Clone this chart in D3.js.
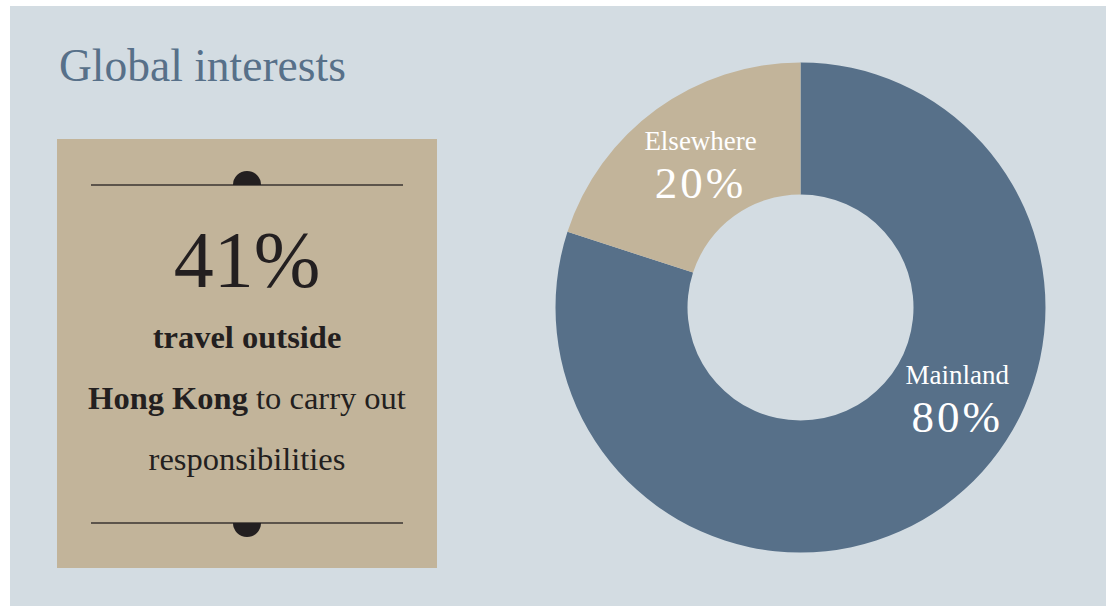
<!DOCTYPE html>
<html>
<head>
<meta charset="utf-8">
<script src="https://cdn.jsdelivr.net/npm/d3@7"></script>
<style>
  html, body { margin: 0; padding: 0; background: #fff; }
  svg { display: block; }
  text { font-family: 'Liberation Serif', 'DejaVu Serif', serif; }
</style>
</head>
<body>
<svg id="chart"></svg>
<script>
const regions = ['Mainland', 'Elsewhere'];
const shares = [80, 20];
const headline = '41%';
const noteLines = [
  [{ t: 'travel outside', bold: true }],
  [{ t: 'Hong Kong', bold: true }, { t: ' to carry out', bold: false }],
  [{ t: 'responsibilities', bold: false }]
];

const width = 1112;
const height = 606;
const colors = { Mainland: '#577089', Elsewhere: '#c2b49a' };
// where each label sits around the ring
const labelPos = {
  Mainland: { angle: 123, r: 187 },
  Elsewhere: { angle: -37, r: 166 }
};

const svg = d3.select('#chart')
  .attr('width', width)
  .attr('height', height);

svg.append('rect')
  .attr('x', 10)
  .attr('y', 6)
  .attr('width', 1096)
  .attr('height', 600)
  .attr('fill', '#d3dce2');

svg.append('text')
  .attr('x', 59)
  .attr('y', 81)
  .attr('fill', '#577089')
  .style('font-size', '45.5px')
  .text('Global interests');

// left card
const card = svg.append('g');
card.append('rect')
  .attr('x', 57)
  .attr('y', 139)
  .attr('width', 380)
  .attr('height', 429)
  .attr('fill', '#c2b49a');

const cx = 247;
[{ y: 185, up: true }, { y: 523, up: false }].forEach(r => {
  card.append('line')
    .attr('x1', 91).attr('x2', 403)
    .attr('y1', r.y).attr('y2', r.y)
    .attr('stroke', '#3a3431')
    .attr('stroke-width', 1.5);
  const arc = d3.arc()
    .innerRadius(0)
    .outerRadius(14)
    .startAngle(r.up ? -Math.PI / 2 : Math.PI / 2)
    .endAngle(r.up ? Math.PI / 2 : Math.PI * 1.5);
  card.append('path')
    .attr('transform', `translate(${cx}, ${r.y})`)
    .attr('d', arc())
    .attr('fill', '#231f20');
});

card.append('text')
  .attr('x', cx)
  .attr('y', 287)
  .attr('text-anchor', 'middle')
  .attr('fill', '#231f20')
  .style('font-size', '80px')
  .text(headline);

noteLines.forEach((line, i) => {
  const t = card.append('text')
    .attr('x', cx)
    .attr('y', 348 + i * 61)
    .attr('text-anchor', 'middle')
    .attr('fill', '#231f20')
    .style('font-size', '32.5px');
  line.forEach(part => {
    t.append('tspan')
      .style('font-weight', part.bold ? 'bold' : 'normal')
      .text(part.t);
  });
});

// donut
const data = regions.map((r, i) => ({ region: r, value: shares[i] }));
const pie = d3.pie().value(d => d.value).sort(null);
const arc = d3.arc().innerRadius(113).outerRadius(245);

const donut = svg.append('g')
  .attr('transform', 'translate(800.5, 307.5)');

donut.selectAll('path')
  .data(pie(data))
  .enter()
  .append('path')
  .attr('d', arc)
  .attr('fill', d => colors[d.data.region]);

const labels = donut.selectAll('.label')
  .data(pie(data))
  .enter()
  .append('g')
  .attr('class', 'label')
  .attr('transform', d => {
    const p = labelPos[d.data.region];
    const a = p.angle * Math.PI / 180;
    return `translate(${p.r * Math.sin(a)}, ${-p.r * Math.cos(a)})`;
  });

labels.append('text')
  .attr('text-anchor', 'middle')
  .attr('y', -25)
  .attr('fill', '#fff')
  .style('font-size', '27px')
  .text(d => d.data.region);

labels.append('text')
  .attr('text-anchor', 'middle')
  .attr('y', 23)
  .attr('fill', '#fff')
  .style('font-size', '45px')
  .style('letter-spacing', '3px')
  .text(d => `${d.data.value}%`);
</script>
</body>
</html>
